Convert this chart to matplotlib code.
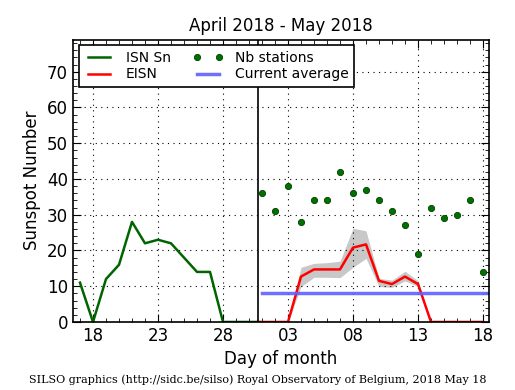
import matplotlib
matplotlib.use("Agg")
import matplotlib.pyplot as plt
import numpy as np

# days counted from April 0 (May 1 = 31)
isn_days = [17, 18, 19, 20, 21, 22, 23, 24, 25, 26, 27, 28, 29, 30, 30.7]
isn_vals = [11, 0, 12, 16, 28, 22, 23, 22, 18, 14, 14, 0, 0, 0, 0]

eisn_days = [30.7] + list(range(31, 49))
eisn_vals = [0, 0, 0, 0, 12.7, 14.7, 14.7, 14.7, 20.8, 21.7, 11.5, 10.6, 12.7, 10.6,
             0, 0, 0, 0, 0]
eisn_lo = [0, 0, 0, 0, 9.9, 12.5, 12.5, 12.4, 15.3, 17.8, 9.9, 9.7, 11.5, 9.9,
           0, 0, 0, 0, 0]
eisn_hi = [0, 0, 0, 0, 15.3, 16.4, 16.6, 17.0, 26.2, 25.5, 12.2, 11.7, 14.2, 11.5,
           0, 0, 0, 0, 0]

nb_days = list(range(31, 49))
nb_vals = [36, 31, 38, 28, 34, 34, 42, 36, 37, 34, 31, 27, 19, 32, 29, 30, 34, 14]

avg_days = [31, 49]
avg_val = 8
split_day = 30.7

tick_pos = [18, 23, 28, 33, 38, 43, 48]
tick_lab = ["18", "23", "28", "03", "08", "13", "18"]

fig = plt.figure(figsize=(5.15, 3.9), dpi=100)
ax = fig.add_axes([0.1417, 0.1744, 0.8078, 0.7243])

ax.fill_between(eisn_days, eisn_lo, eisn_hi, color="#c8c8c8", lw=0)
ax.plot(isn_days, isn_vals, color="#006400", lw=1.8, label="ISN Sn")
ax.plot(eisn_days, eisn_vals, color="red", lw=1.8, label="EISN")
ax.plot(nb_days, nb_vals, "o", color="#007000", mec="#004000", mew=0.6, ms=4.5,
        label="Nb stations")
ax.plot(avg_days, [avg_val, avg_val], color="#6060ff", lw=2.5, alpha=0.9,
        label="Current average")
ax.axvline(split_day, color="black", lw=1.2)

ax.set_xlim(16.46, 48.46)
ax.set_ylim(0, 79)
ax.set_xticks(tick_pos)
ax.set_xticklabels(tick_lab)
ax.set_xticks(np.arange(17, 49), minor=True)
ax.set_yticks(np.arange(0, 80, 10))
ax.set_yticks(np.arange(0, 79, 2), minor=True)
ax.tick_params(which="both", direction="in", top=True, right=True, labelsize=12)
ax.tick_params(which="major", length=6)
ax.tick_params(which="minor", length=3)
ax.grid(True, which="major", color="black", linestyle=(0, (1, 4)), lw=0.8)
for s in ax.spines.values():
    s.set_linewidth(1.2)

ax.set_title("April 2018 - May 2018", fontsize=12)
ax.set_xlabel("Day of month", fontsize=12)
ax.set_ylabel("Sunspot Number", fontsize=12)

leg = ax.legend(loc="upper left", ncol=2, numpoints=2, fontsize=10, fancybox=False,
                framealpha=1, edgecolor="black", borderaxespad=0.4,
                handlelength=2.2, columnspacing=1.6, labelspacing=0.2)
leg.get_frame().set_linewidth(1.2)

fig.text(0.5, 0.018, "SILSO graphics (http://sidc.be/silso) Royal Observatory of Belgium, 2018 May 18",
         ha="center", fontsize=8, family="DejaVu Serif")

fig.savefig("out.png", dpi=100, facecolor="white")
